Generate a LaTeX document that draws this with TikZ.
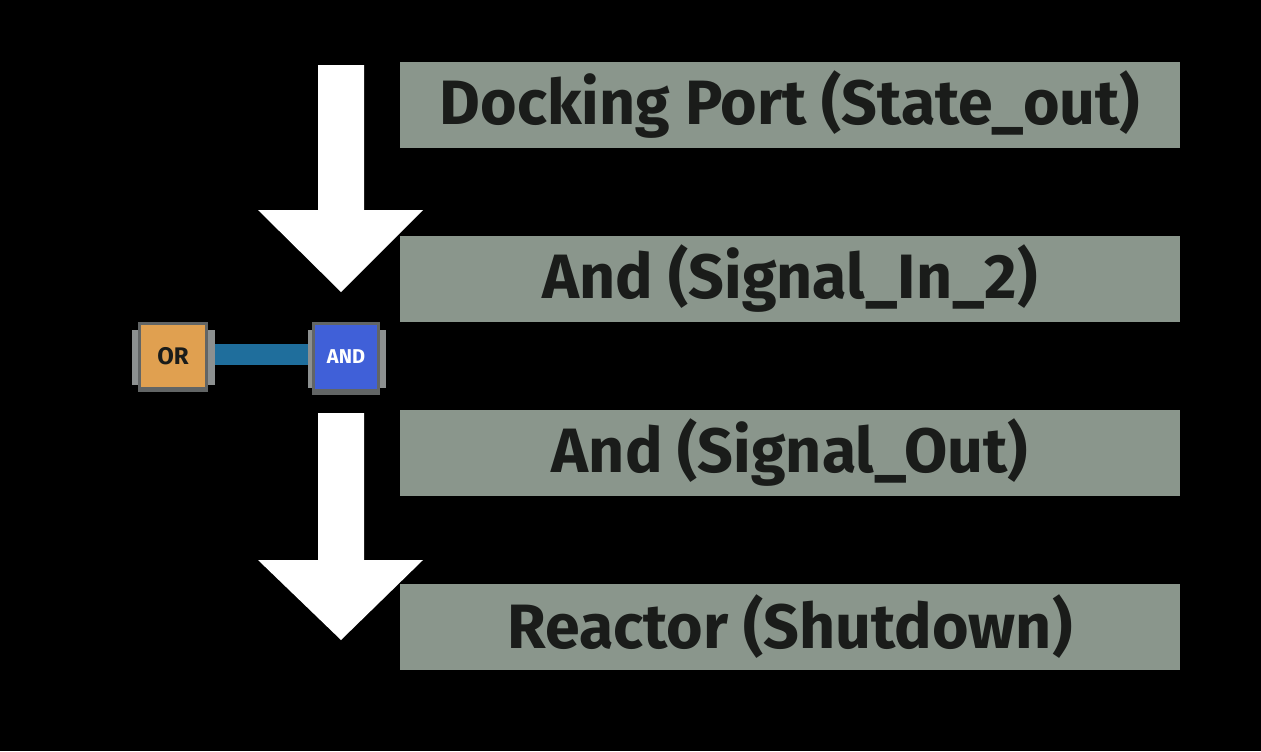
\documentclass[tikz,border=0pt]{standalone}
\usepackage{fontspec}
\setmainfont{Fira Sans}
\definecolor{lab}{HTML}{8A968C}
\definecolor{txt}{HTML}{1A1C1A}
\definecolor{orb}{HTML}{E0A050}
\definecolor{andb}{HTML}{4060D8}
\definecolor{frame}{HTML}{8C9090}
\definecolor{wire}{HTML}{1F6E9C}
\begin{document}
\begin{tikzpicture}[x=0.75pt,y=-0.75pt,
  lbl/.style={fill=lab,minimum width=585pt,minimum height=64.5pt,inner sep=0,text=txt,font=\bfseries\fontsize{47}{50}\selectfont},
  arr/.style={fill=white}]
\fill[black] (0,0) rectangle (1261,751);
\node[lbl] (l1) at (790,105) {Docking Port (State\_out)};
\node[lbl] (l2) at (790,279) {And (Signal\_In\_2)};
\node[lbl] (l3) at (790,453) {And (Signal\_Out)};
\node[lbl] (l4) at (790,627) {Reactor (Shutdown)};
\fill[arr] (318,65) -- (364,65) -- (364,210) -- (423,210) -- (341,292) -- (258,210) -- (318,210) -- cycle;
\fill[arr] (318,413) -- (364,413) -- (364,560) -- (423,560) -- (341,640) -- (258,560) -- (318,560) -- cycle;
% wire
\fill[wire] (205,344) rectangle (312,365);
% OR gate
\fill[frame] (132,330) rectangle (215,385);
\fill[frame!70!black] (138,322) rectangle (208,392);
\node[fill=orb,minimum width=48pt,minimum height=46pt,inner sep=0,font=\bfseries\fontsize{18}{20}\selectfont,text=txt] (or) at (173,356) {OR};
% AND gate
\fill[frame] (308,330) rectangle (386,388);
\fill[frame!70!black] (312,322) rectangle (380,395);
\node[fill=andb,minimum width=47pt,minimum height=48pt,inner sep=0,font=\bfseries\fontsize{15}{18}\selectfont,text=white] (and) at (346,357) {AND};
\end{tikzpicture}
\end{document}
